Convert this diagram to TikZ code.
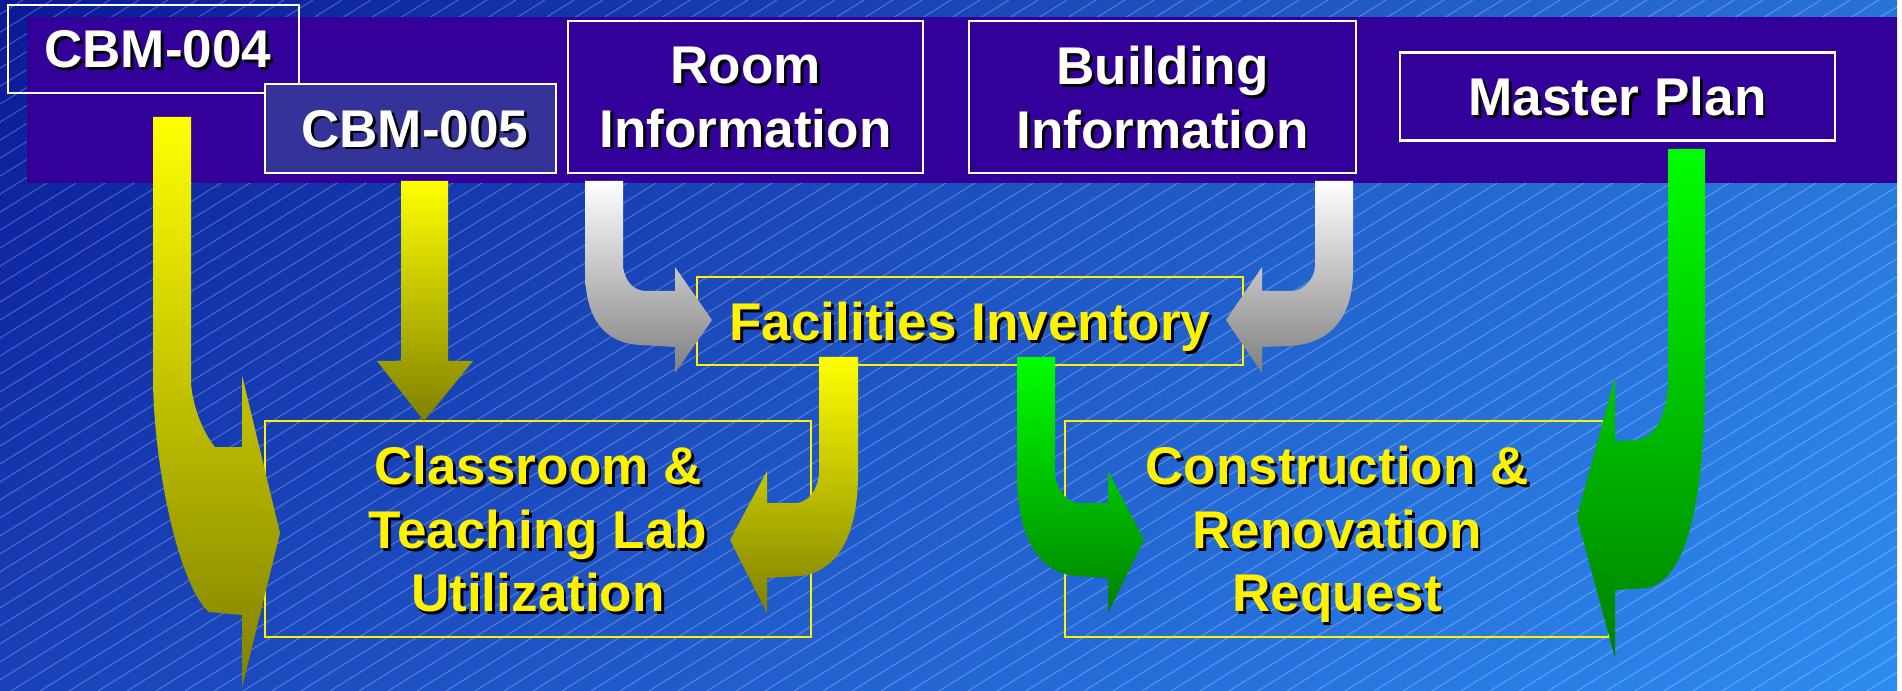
\documentclass[tikz,border=0pt]{standalone}
\usepackage{fontspec}
\setmainfont{Liberation Sans}
\usepackage{xcolor}
\usepackage{tikz}
\usetikzlibrary{shadings}
\definecolor{bgtl}{RGB}{10,25,150}
\definecolor{bgtr}{RGB}{40,115,215}
\definecolor{bgbl}{RGB}{25,65,185}
\definecolor{bgbr}{RGB}{45,140,240}
\definecolor{band}{RGB}{51,0,153}
\definecolor{boxfive}{RGB}{51,51,153}
\definecolor{gtop}{RGB}{0,255,0}
\definecolor{gbot}{RGB}{0,128,0}
\tikzset{wbox/.style={draw=white,line width=0.6pt,text=white,inner sep=0pt,align=center,text depth=-1.2pt,font=\fontsize{15.1}{18.1}\selectfont\bfseries},
  ybox/.style={draw=yellow,line width=0.6pt,text=yellow,inner sep=0pt,align=center,text depth=-1.2pt,font=\fontsize{15.1}{18.1}\selectfont\bfseries},
  yarr/.style={top color=yellow,bottom color=olive},
  warr/.style={top color=white,bottom color=gray},
  garr/.style={top color=gtop,bottom color=gbot}}
\newcommand\shd[1]{\makebox[0pt][l]{\kern0.8pt\raisebox{-0.8pt}{\color{black}#1}}#1}

\begin{document}
\begin{tikzpicture}[x=0.01cm,y=-0.01cm]
    \fill[white] (0,0) rectangle (1902,691);
    \shade[upper left=bgtl,upper right=bgtr,lower left=bgbl,lower right=bgbr] (0,0) rectangle (1897,691);
    \begin{scope}
        \clip (0,0) rectangle (1897,691);
        \foreach \i in {-1120,-1091,...,1897}
            \draw[white,opacity=0.25,line width=0.3pt] (\i,691) -- ++(1114,-691);
    \end{scope}
    \fill[band] (27,17) rectangle (1897,183);

    \node[wbox,minimum width=2.91cm,minimum height=0.88cm] (cbm4) at (153.5,49) {\kern2.5pt\shd{CBM-004}};
    \node[wbox,fill=boxfive,minimum width=2.91cm,minimum height=0.89cm] (cbm5) at (410.5,128.5) {\kern2.5pt\shd{CBM-005}};
    \node[wbox,fill=band,minimum width=3.55cm,minimum height=1.52cm] (room) at (745.5,97) {\shd{Room}\\\shd{Information}};
    \node[wbox,fill=band,minimum width=3.87cm,minimum height=1.52cm] (bldg) at (1162.5,97) {\shd{Building}\\\shd{Information}};
    \node[wbox,fill=band,minimum width=4.35cm,minimum height=0.88cm] (mplan) at (1617.5,96.5) {\shd{Master Plan}};
    \node[ybox,minimum width=5.46cm,minimum height=0.88cm] (fac) at (970,321) {\shd{Facilities Inventory}};
    \node[ybox,minimum width=5.46cm,minimum height=2.16cm] (cls) at (538,529) {\shd{Classroom \&}\\\shd{Teaching Lab}\\\shd{Utilization}};
    \node[ybox,minimum width=5.44cm,minimum height=2.16cm] (cons) at (1337,529) {\shd{Construction \&}\\\shd{Renovation}\\\shd{Request}};

    \shade[yarr] (153,117) -- (153,383) .. controls (155,480) and (182,590) .. (209,612) -- (242,615) -- (242,688) -- (280,533) -- (242,375) -- (242,447) -- (215,447) .. controls (205,435) and (193,410) .. (191,383) -- (191,117) -- cycle;
    \shade[yarr] (401,181) -- (401,361) -- (377,361) -- (424,421) -- (473,361) -- (448,361) -- (448,181) -- cycle;
    \shade[warr] (585,181) -- (585,270) .. controls (585,320) and (605,343) .. (640,345) -- (675,347) -- (675,373) -- (712,320) -- (675,267) -- (675,291) -- (645,291) .. controls (632,290) and (625,280) .. (623,267) -- (623,181) -- cycle;
    \shade[warr] (1353,181) -- (1353,275) .. controls (1351,330) and (1318,345) .. (1288,346) -- (1262,347) -- (1262,373) -- (1226,320) -- (1262,267) -- (1262,291) -- (1293,291) .. controls (1303,290) and (1314,280) .. (1315,267) -- (1315,181) -- cycle;
    \shade[yarr] (858,357) -- (858,473) .. controls (858,540) and (835,572) .. (800,576) -- (767,578) -- (767,613) -- (730,540) -- (767,471) -- (767,503) -- (797,503) .. controls (808,502) and (818,490) .. (819,473) -- (819,357) -- cycle;
    \shade[garr] (1017,357) -- (1017,473) .. controls (1017,540) and (1040,572) .. (1075,576) -- (1108,578) -- (1108,613) -- (1144,540) -- (1108,471) -- (1108,503) -- (1078,503) .. controls (1067,502) and (1056,490) .. (1055,473) -- (1055,357) -- cycle;
    \shade[garr] (1705,149) -- (1705,383) .. controls (1704,500) and (1687,580) .. (1647,588) -- (1615,590) -- (1615,658) -- (1577,517) -- (1615,377) -- (1615,441) -- (1637,440) .. controls (1655,438) and (1667,415) .. (1668,383) -- (1668,149) -- cycle;
\end{tikzpicture}
\end{document}
